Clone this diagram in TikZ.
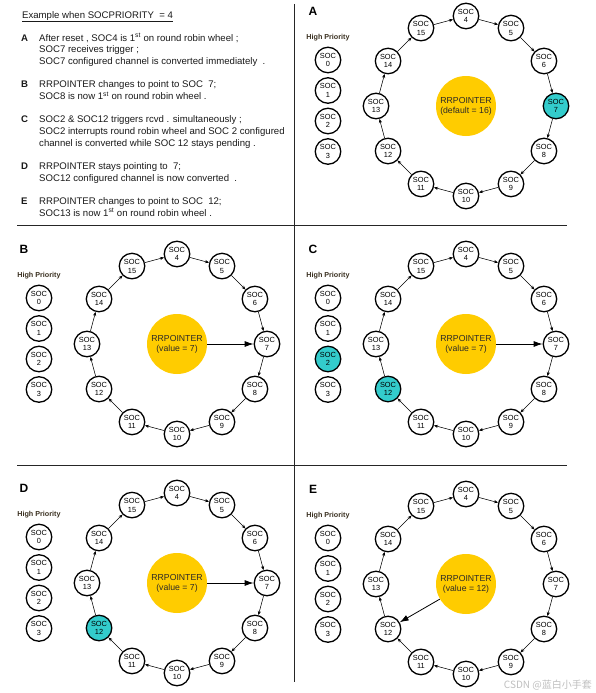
\documentclass[tikz,border=0pt]{standalone}
\usepackage{fontspec}
\setmainfont{Liberation Sans}
\newfontfamily\cjk{Noto Sans CJK SC}
\usetikzlibrary{arrows.meta}
\definecolor{socteal}{HTML}{33CCCC}
\definecolor{rryellow}{HTML}{FFCC00}
\definecolor{hptext}{HTML}{3A3020}
\definecolor{bodytext}{HTML}{1A1A1A}
\tikzset{
  soc/.style={circle, draw=black, line width=1.3pt, fill=white, minimum size=25.5pt,
    inner sep=0pt, align=center, font=\fontsize{7.4}{8.8}\selectfont},
  rr/.style={circle, fill=rryellow, minimum size=60pt, inner sep=0pt, align=center,
    font=\fontsize{8.7}{10}\selectfont, text=black!90!olive},
  ringarrow/.style={-{Stealth[length=4pt,width=3.2pt]}, line width=0.55pt},
  rrarrow/.style={-{Latex[length=9pt,width=6pt]}, line width=0.8pt},
  hplabel/.style={font=\bfseries\fontsize{7.2}{8}\selectfont, text=hptext},
  panelletter/.style={font=\bfseries\fontsize{12}{14}\selectfont},
  sepline/.style={line width=0.8pt, draw=black!85},
  txt/.style={anchor=base west, inner sep=0pt, text=bodytext, font=\fontsize{9.6}{11}\selectfont},
  txtletter/.style={anchor=base west, inner sep=0pt, text=bodytext, font=\bfseries\fontsize{9.6}{11}\selectfont},
  hlA7/.style={fill=socteal},
  hlC2/.style={fill=socteal},
  hlC12/.style={fill=socteal},
  hlD12/.style={fill=socteal},
}
\newcommand{\socpanel}[4]{%
  \node[panelletter] (#1-letter) at (#2-153, #3-95) {#1};
  \node[hplabel] (#1-hp) at (#2-138, #3-68) {High Priority};
  \foreach \k in {0,...,3} {
    \node[soc, hl#1\k/.try] (#1-\k) at (#2-138, {#3-46+30.5*\k}) {SOC\\\k};
  }
  \node[rr] (#1-rr) at (#2,#3) {RRPOINTER\\#4};
  \foreach \k in {4,...,15} {
    \pgfmathsetmacro\ang{90-(\k-4)*30}
    \node[soc, hl#1\k/.try] (#1-\k) at ({#2+90*cos(\ang)}, {#3-90*sin(\ang)}) {SOC\\\k};
  }
  \foreach \k in {4,...,15} {
    \pgfmathtruncatemacro\nxt{mod(\k-3,12)+4}
    \draw[ringarrow] (#1-\k) -- (#1-\nxt);
  }
}
\begin{document}
\begin{tikzpicture}[x=1pt, y=-1pt]
\useasboundingbox (0,0) rectangle (595,693);
\fill[white] (0,0) rectangle (595,693);

% separators
\draw[sepline] (294,4) -- (294,682);
\draw[sepline] (17,225) -- (567,225);
\draw[sepline] (17,465) -- (567,465);

% text block
\node[txt] (title) at (22,18.3) {\underline{Example when SOCPRIORITY \ = 4}};
\node[txtletter] (lA) at (21,41.3) {A};
\node[txt] (tA1) at (39,41.3) {After reset , SOC4 is 1\textsuperscript{st} on round robin wheel ;};
\node[txt] (tA2) at (39,52.8) {SOC7 receives trigger ;};
\node[txt] (tA3) at (39,64.3) {SOC7 configured channel is converted immediately \ .};
\node[txtletter] (lB) at (21,87.3) {B};
\node[txt] (tB1) at (39,87.3) {RRPOINTER changes to point to SOC \ 7;};
\node[txt] (tB2) at (39,99.8) {SOC8 is now 1\textsuperscript{st} on round robin wheel .};
\node[txtletter] (lC) at (21,122.3) {C};
\node[txt] (tC1) at (39,122.3) {SOC2 \& SOC12 triggers rcvd . simultaneously ;};
\node[txt] (tC2) at (39,134.3) {SOC2 interrupts round robin wheel and SOC 2 configured};
\node[txt] (tC3) at (39,146.3) {channel is converted while SOC 12 stays pending .};
\node[txtletter] (lD) at (21,169.3) {D};
\node[txt] (tD1) at (39,169.3) {RRPOINTER stays pointing to \ 7;};
\node[txt] (tD2) at (39,181.3) {SOC12 configured channel is now converted \ .};
\node[txtletter] (lE) at (21,204.3) {E};
\node[txt] (tE1) at (39,204.3) {RRPOINTER changes to point to SOC \ 12;};
\node[txt] (tE2) at (39,216.3) {SOC13 is now 1\textsuperscript{st} on round robin wheel .};

% panels
\socpanel{A}{466}{106}{(default = 16)}
\socpanel{B}{177}{344}{(value = 7)}
\socpanel{C}{466}{344}{(value = 7)}
\socpanel{D}{177}{583}{(value = 7)}
\socpanel{E}{466}{584}{(value = 12)}

\draw[rrarrow] (B-rr) -- (B-7);
\draw[rrarrow] (C-rr) -- (C-7);
\draw[rrarrow] (D-rr) -- (D-7);
\draw[rrarrow] (E-rr) -- (E-12);

\node[anchor=base east, inner sep=0pt, text=black!25, font=\cjk\fontsize{10}{12}\selectfont] (wm) at (592,688) {CSDN @蓝白小手套};
\end{tikzpicture}
\end{document}
